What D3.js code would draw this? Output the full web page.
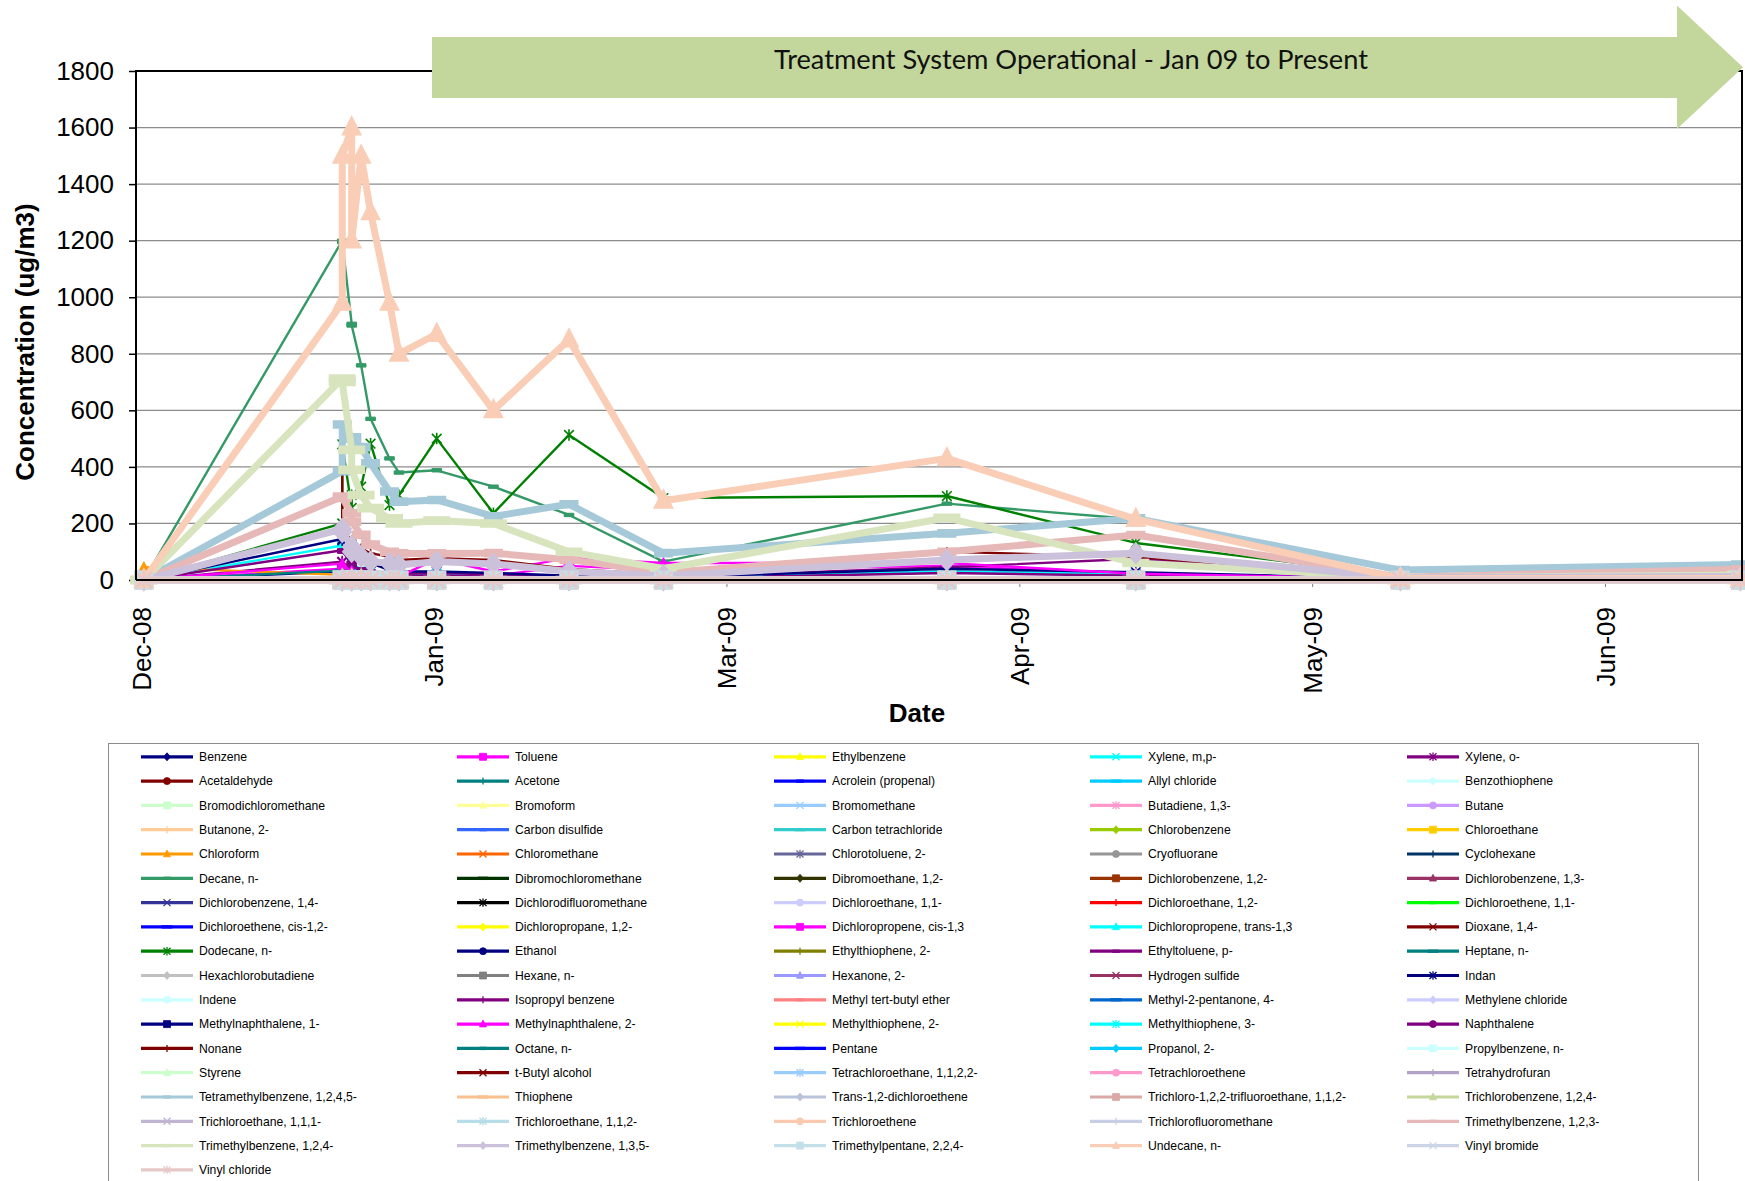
<!DOCTYPE html>
<html><head><meta charset="utf-8">
<script src="https://cdn.jsdelivr.net/npm/d3@7"></script>
<style>
html,body{margin:0;padding:0;background:#fff;}
svg{display:block;font-family:"Liberation Sans",Arial,sans-serif;}
</style></head><body>
<svg id="chart" width="1745" height="1181"></svg>
<script>
// ---------------- DATA ----------------
const sampleDates = ["2008-12-31T08:00","2009-01-21T08:00","2009-01-21T08:00","2009-01-22T08:00","2009-01-22T08:00","2009-01-23T08:00","2009-01-24T08:00","2009-01-26T08:00","2009-01-27T08:00","2009-01-31T08:00","2009-02-06T08:00","2009-02-14T08:00","2009-02-24T08:00","2009-03-26T08:00","2009-04-15T08:00","2009-05-13T08:00","2009-06-18T08:00"];
const xDomain = ["2008-12-30T12:00","2009-06-18T12:00"];
const xTickDates = ["2008-12-31T00:00","2009-01-31T00:00","2009-03-03T00:00","2009-04-03T00:00","2009-05-04T00:00","2009-06-04T00:00"];
const yTicks = [0,200,400,600,800,1000,1200,1400,1600,1800];
const yGrid = [200,400,600,800,1000,1200,1400,1600];

const seriesNames = [
"Benzene","Toluene","Ethylbenzene","Xylene, m,p-","Xylene, o-",
"Acetaldehyde","Acetone","Acrolein (propenal)","Allyl chloride","Benzothiophene",
"Bromodichloromethane","Bromoform","Bromomethane","Butadiene, 1,3-","Butane",
"Butanone, 2-","Carbon disulfide","Carbon tetrachloride","Chlorobenzene","Chloroethane",
"Chloroform","Chloromethane","Chlorotoluene, 2-","Cryofluorane","Cyclohexane",
"Decane, n-","Dibromochloromethane","Dibromoethane, 1,2-","Dichlorobenzene, 1,2-","Dichlorobenzene, 1,3-",
"Dichlorobenzene, 1,4-","Dichlorodifluoromethane","Dichloroethane, 1,1-","Dichloroethane, 1,2-","Dichloroethene, 1,1-",
"Dichloroethene, cis-1,2-","Dichloropropane, 1,2-","Dichloropropene, cis-1,3","Dichloropropene, trans-1,3","Dioxane, 1,4-",
"Dodecane, n-","Ethanol","Ethylthiophene, 2-","Ethyltoluene, p-","Heptane, n-",
"Hexachlorobutadiene","Hexane, n-","Hexanone, 2-","Hydrogen sulfide","Indan",
"Indene","Isopropyl benzene","Methyl tert-butyl ether","Methyl-2-pentanone, 4-","Methylene chloride",
"Methylnaphthalene, 1-","Methylnaphthalene, 2-","Methylthiophene, 2-","Methylthiophene, 3-","Naphthalene",
"Nonane","Octane, n-","Pentane","Propanol, 2-","Propylbenzene, n-",
"Styrene","t-Butyl alcohol","Tetrachloroethane, 1,1,2,2-","Tetrachloroethene","Tetrahydrofuran",
"Tetramethylbenzene, 1,2,4,5-","Thiophene","Trans-1,2-dichloroethene","Trichloro-1,2,2-trifluoroethane, 1,1,2-","Trichlorobenzene, 1,2,4-",
"Trichloroethane, 1,1,1-","Trichloroethane, 1,1,2-","Trichloroethene","Trichlorofluoromethane","Trimethylbenzene, 1,2,3-",
"Trimethylbenzene, 1,2,4-","Trimethylbenzene, 1,3,5-","Trimethylpentane, 2,2,4-","Undecane, n-","Vinyl bromide",
"Vinyl chloride"];

// values (ug/m3) at each sample date
const undecane           = [0, 980, 1500, 1600, 1200, 1500, 1300, 980, 800, 870, 600, 850, 280, 430, 215, 5, 5];
const decane             = [0, 1200, 1195, 906, 900, 759, 570, 430, 380, 388, 330, 230, 65, 270, 215, 30, 45];
const tetramethylbenzene = [0, 385, 550, 505, 500, 470, 413, 313, 277, 283, 225, 268, 95, 165, 218, 35, 55];
const tmb124             = [0, 712, 700, 460, 390, 300, 254, 218, 200, 210, 200, 100, 40, 220, 60, 8, 18];
const dodecane           = [0, 200, 480, 255, 300, 330, 482, 265, 300, 500, 236, 513, 290, 297, 131, 15, 25];
const nonane             = [0, 390, 180, 140, 130, 112, 94, 83, 71, 77, 71, 39, 20, 100, 82, 8, 12];
const tmb123             = [0, 295, 290, 236, 206, 160, 125, 100, 94, 94, 95, 72, 26, 100, 159, 10, 38];
const tmb135             = [0, 180, 170, 118, 100, 83, 65, 59, 53, 65, 57, 30, 15, 71, 95, 8, 12];
const indan              = [0, 145, 140, 100, 90, 80, 60, 35, 30, 30, 25, 15, 10, 40, 28, 5, 5];
const xyleneMP           = [0, 122, 115, 60, 45, 35, 28, 22, 18, 22, 18, 12, 8, 30, 20, 3, 5];
const ethyltoluene       = [0, 105, 100, 62, 48, 38, 30, 25, 22, 25, 20, 15, 10, 45, 75, 5, 8];
const xyleneO            = [0, 65, 62, 40, 32, 26, 20, 18, 15, 16, 12, 10, 6, 25, 15, 3, 4];
const methylnaph2        = [0, 58, 52, 32, 26, 20, 15, 12, 12, 75, 30, 78, 60, 60, 22, 5, 10];
const toluene            = [0, 40, 38, 25, 20, 15, 12, 10, 10, 20, 15, 50, 35, 50, 20, 3, 5];
const benzene            = [0, 30, 28, 20, 18, 15, 12, 10, 10, 12, 10, 8, 5, 30, 20, 2, 3];
const heptane            = [0, 33, 30, 15, 12, 9, 7, 6, 5, 5, 4, 3, 2, 10, 5, 1, 1];
const chloroform         = [45, 18, 15, 10, 8, 6, 5, 4, 4, 4, 3, 3, 2, 3, 3, 1, 1];
const trace              = [0, 8, 8, 5, 5, 4, 3, 3, 3, 3, 2, 2, 2, 4, 3, 1, 1];
const nonDetect          = [0, 0, 0, 0, 0, 0, 0, 0, 0, 0, 0, 0, 0, 0, 0, 0, 0];

const seriesValues = [
benzene, toluene, trace, xyleneMP, xyleneO,
trace, trace, nonDetect, nonDetect, nonDetect,
nonDetect, nonDetect, nonDetect, nonDetect, trace,
trace, trace, nonDetect, nonDetect, nonDetect,
chloroform, trace, nonDetect, nonDetect, trace,
decane, nonDetect, nonDetect, nonDetect, nonDetect,
nonDetect, nonDetect, nonDetect, nonDetect, nonDetect,
nonDetect, nonDetect, nonDetect, nonDetect, nonDetect,
dodecane, trace, nonDetect, ethyltoluene, heptane,
nonDetect, trace, nonDetect, nonDetect, indan,
trace, trace, nonDetect, nonDetect, trace,
trace, methylnaph2, nonDetect, nonDetect, trace,
nonane, trace, trace, trace, trace,
nonDetect, nonDetect, nonDetect, nonDetect, nonDetect,
tetramethylbenzene, nonDetect, nonDetect, nonDetect, nonDetect,
nonDetect, nonDetect, nonDetect, nonDetect, tmb123,
tmb124, tmb135, nonDetect, undecane, nonDetect,
nonDetect];

// ---------------- STYLES ----------------
const seriesColors = [
"#000080","#ff00ff","#ffff00","#00ffff","#800080",
"#800000","#008080","#0000ff","#00ccff","#ccffff",
"#ccffcc","#ffff99","#99ccff","#ff99cc","#cc99ff",
"#ffcc99","#3366ff","#33cccc","#99cc00","#ffcc00",
"#ff9900","#ff6600","#666699","#969696","#003366",
"#339966","#003300","#333300","#993300","#993366",
"#333399","#000000","#ccccff","#ff0000","#00ff00",
"#0000ff","#ffff00","#ff00ff","#00ffff","#800000",
"#008000","#000080","#808000","#800080","#008080",
"#c0c0c0","#808080","#9999ff","#993366","#000080",
"#ccffff","#800080","#ff8080","#0066cc","#ccccff",
"#000080","#ff00ff","#ffff00","#00ffff","#800080",
"#800000","#008080","#0000ff","#00ccff","#ccffff",
"#ccffcc","#800000","#99ccff","#ff99cc","#b2a2c7",
"#a5c9d8","#fac090","#b9c3da","#d9a9a8","#c3d69b",
"#bfb5d3","#b7dee8","#fbc9b0","#c6cfe3","#e6b9b8",
"#d7e4bd","#ccc1da","#c5dfe8","#f9cdb6","#ccd4e7",
"#e6c8c8"];
const markerCycle = ["diamond","square","triangle","x","star","circle","plus","shortbar","longbar"];
const thickFrom = 69;

function markerPath(type, s){
  switch(type){
    case "diamond": return `M0,${-s*1.15}L${s},0L0,${s*1.15}L${-s},0Z`;
    case "square": return `M${-s},${-s}H${s}V${s}H${-s}Z`;
    case "triangle": return `M0,${-s*1.15}L${s},${s*0.8}L${-s},${s*0.8}Z`;
    case "x": return `M${-s},${-s}L${s},${s}M${-s},${s}L${s},${-s}`;
    case "star": return `M${-s},${-s}L${s},${s}M${-s},${s}L${s},${-s}M0,${-s*1.2}L0,${s*1.2}`;
    case "circle": return `M${s},0A${s},${s},0,1,1,${-s},0A${s},${s},0,1,1,${s},0Z`;
    case "plus": return `M${-s},0H${s}M0,${-s}V${s}`;
    case "shortbar": return `M${-s},${-s*0.35}H${s}V${s*0.35}H${-s}Z`;
    case "longbar": return `M${-s*1.5},${-s*0.35}H${s*1.5}V${s*0.35}H${-s*1.5}Z`;
  }
}
const openMarkers = new Set(["x","star","plus"]);

// ---------------- CHART ----------------
const svg = d3.select("#chart");
const parse = d3.isoParse;
const dates = sampleDates.map(d => parse(d));

const x = d3.scaleTime().domain(xDomain.map(d => parse(d))).range([136, 1742]);
const y = d3.scaleLinear().domain([0, 1800]).range([580, 71]);

// gridlines
svg.append("g").selectAll("line").data(yGrid).join("line")
  .attr("x1", 136).attr("x2", 1742)
  .attr("y1", d => y(d)).attr("y2", d => y(d))
  .attr("stroke", "#8c8c8c").attr("stroke-width", 1.3);

// y axis
const yAxis = svg.append("g").attr("transform", "translate(136,0)")
  .call(d3.axisLeft(y).tickValues(yTicks).tickSize(7).tickPadding(15).tickFormat(d3.format("d")));
yAxis.select(".domain").remove();
yAxis.selectAll(".tick line").attr("stroke", "#000").attr("stroke-width", 1.5);
yAxis.selectAll("text").attr("font-size", 26).attr("fill", "#000")
  .attr("font-family", "'Liberation Sans',Arial,sans-serif");

// x axis
const xAxis = svg.append("g").attr("transform", "translate(0,580)")
  .call(d3.axisBottom(x).tickValues(xTickDates.map(d => parse(d))).tickSize(7).tickFormat(d3.timeFormat("%b-%y")));
xAxis.select(".domain").remove();
xAxis.selectAll(".tick line").attr("stroke", "#808080").attr("stroke-width", 1);
xAxis.selectAll("text")
  .attr("transform", "rotate(-90)")
  .attr("x", -27).attr("y", 0).attr("dy", "0.36em")
  .attr("text-anchor", "end")
  .attr("font-size", 26).attr("fill", "#000")
  .attr("font-family", "'Liberation Sans',Arial,sans-serif");

// series
const line = d3.line().x(d => x(d.date)).y(d => y(d.v));
const plot = svg.append("g");
seriesNames.forEach((name, i) => {
  const pts = seriesValues[i].map((v, k) => ({date: dates[k], v}));
  const thick = i >= thickFrom;
  const col = seriesColors[i];
  const g = plot.append("g");
  g.append("path").attr("d", line(pts)).attr("fill", "none")
    .attr("stroke", col).attr("stroke-width", thick ? 7 : 2.4)
    .attr("stroke-linejoin", "round").attr("stroke-linecap", "round");
  const mt = markerCycle[i % markerCycle.length];
  const s = thick ? 8 : 4.8;
  const open = openMarkers.has(mt);
  g.selectAll("path.m").data(pts).join("path").attr("class", "m")
    .attr("transform", d => `translate(${x(d.date)},${y(d.v)})`)
    .attr("d", markerPath(mt, s))
    .attr("fill", open ? "none" : col)
    .attr("stroke", col)
    .attr("stroke-width", open ? (thick ? 2.5 : 1.6) : (thick ? 3 : 1))
    .attr("stroke-linejoin", "miter");
});

// frame
svg.append("path")
  .attr("d", `M136,580V71H1742V580H136`)
  .attr("fill", "none").attr("stroke", "#000").attr("stroke-width", 2);

// arrow banner
svg.append("path")
  .attr("d", "M432,37H1677V5.6L1743,67.3L1677,129V98H432Z")
  .attr("fill", "#c3d69b");
const banner = svg.append("text")
  .attr("x", 1071).attr("y", 59).attr("dy", "0.35em")
  .attr("text-anchor", "middle").attr("fill", "#111")
  .style("font-family", "Lato,'Open Sans',sans-serif").style("font-size", "26px")
  .text("Treatment System Operational - Jan 09 to Present");
const bw = banner.node().getComputedTextLength();
banner.style("font-size", (26 * 594 / bw).toFixed(2) + "px");

// axis titles
svg.append("text").attr("transform", "translate(24.5,342) rotate(-90)")
  .attr("text-anchor", "middle").attr("dy", "0.35em")
  .attr("font-size", 26).attr("font-weight", "bold").attr("fill", "#000")
  .text("Concentration (ug/m3)");
svg.append("text").attr("x", 917).attr("y", 713).attr("dy", "0.35em")
  .attr("text-anchor", "middle")
  .attr("font-size", 26).attr("font-weight", "bold").attr("fill", "#000")
  .text("Date");

// legend
const legend = svg.append("g");
legend.append("rect").attr("x", 108.5).attr("y", 743.5).attr("width", 1590).attr("height", 470)
  .attr("fill", "#fff").attr("stroke", "#8c8c8c").attr("stroke-width", 1);
const colX = [141, 457, 774, 1090, 1407];
seriesNames.forEach((name, i) => {
  const cx = colX[i % 5];
  const cy = 756.8 + Math.floor(i / 5) * 24.3;
  const col = seriesColors[i];
  const g = legend.append("g");
  g.append("line").attr("x1", cx).attr("x2", cx + 52).attr("y1", cy).attr("y2", cy)
    .attr("stroke", col).attr("stroke-width", 3.2);
  const mt = markerCycle[i % markerCycle.length];
  const open = openMarkers.has(mt);
  g.append("path").attr("transform", `translate(${cx + 26},${cy})`)
    .attr("d", markerPath(mt, 3.5))
    .attr("fill", open ? "none" : col).attr("stroke", col).attr("stroke-width", open ? 1.3 : 0.8);
  g.append("text").attr("x", cx + 58).attr("y", cy).attr("dy", "0.35em")
    .attr("font-size", 12.2).attr("fill", "#000").text(name);
});
</script>
</body></html>
